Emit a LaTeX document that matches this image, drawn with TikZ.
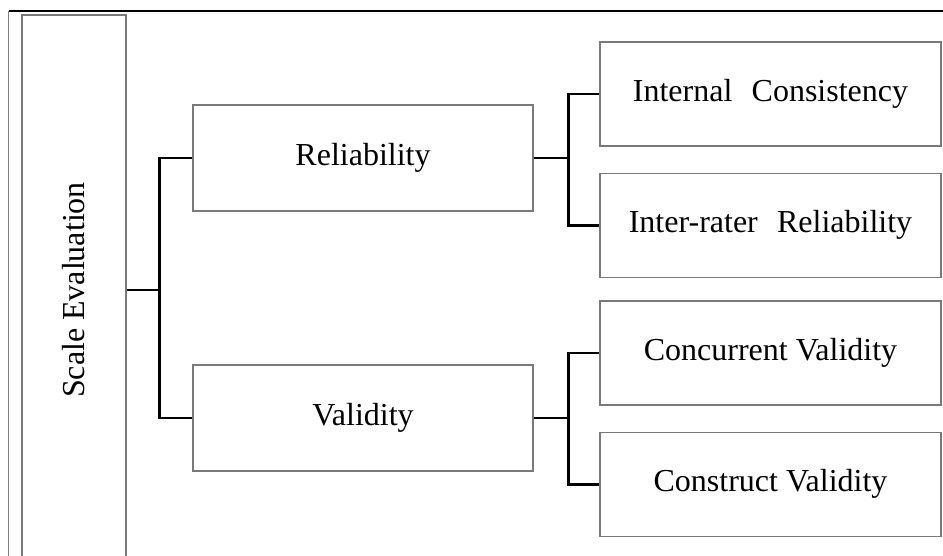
\documentclass[tikz,border=0pt]{standalone}
\usepackage{fontspec}
\setmainfont{Liberation Serif}
\usetikzlibrary{positioning}

\begin{document}
\begin{tikzpicture}[
  x=1pt, y=-1pt,
  node distance=26pt,
  box/.style={draw=gray!95!black, line width=1.3pt, align=center,
              font=\fontsize{32}{38}\selectfont, inner sep=0pt,
              minimum width=#1, minimum height=104pt},
  box/.default=340pt,
  conn/.style={draw=black, line width=2.6pt}]
\useasboundingbox (0,0) rectangle (943,555);
\clip (0,0) rectangle (943,555);
% frame
\draw[black, line width=1.4pt] (8.5,11) -- (960,11);
\draw[gray, line width=1.4pt] (8.5,11) -- (8.5,580);
% nodes
\node[box=104pt, minimum height=550pt] (root) at (74,290) {\rotatebox{90}{Scale Evaluation}};
\node[box, minimum height=106pt] (rel) at (363,158) {Reliability};
\node[box, minimum height=106pt] (val) at (363,418) {Validity};
\node[box=341pt] (ic) at (770.5,94) {Internal\hspace{0.35em} Consistency};
\node[box=341pt, below=of ic] (irr) {Inter-rater\hspace{0.35em} Reliability};
\node[box=341pt] (cv) at (770.5,353) {Concurrent Validity};
\node[box=341pt, below=of cv] (cst) {Construct Validity};
% connectors
\draw[conn] (root.east) -- ++(33,0) coordinate (j0);
\draw[conn] (j0) |- (rel.west);
\draw[conn] (j0) |- (val.west);
\draw[conn] (rel.east) -- ++(35,0) coordinate (j1);
\draw[conn] (j1) |- (ic.west);
\draw[conn] (j1) |- (irr.west);
\draw[conn] (val.east) -- ++(35,0) coordinate (j2);
\draw[conn] (j2) |- (cv.west);
\draw[conn] (j2) |- (cst.west);
\end{tikzpicture}
\end{document}
